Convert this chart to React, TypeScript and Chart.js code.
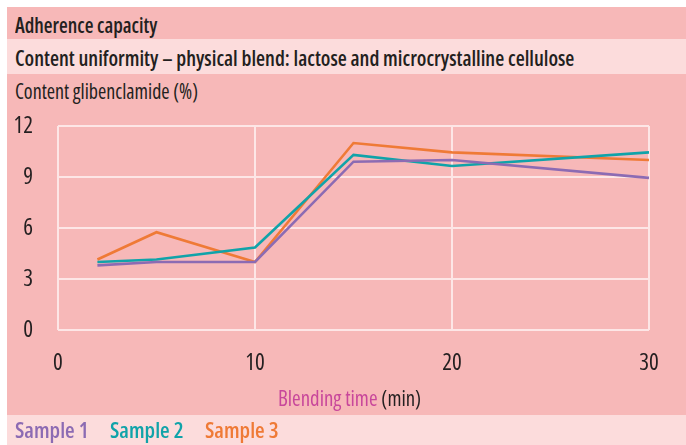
import React, { useEffect, useRef } from "react";
import { Chart, registerables } from "chart.js";

Chart.register(...registerables);

const blendingTime = [2, 5, 10, 15, 20, 30];
const sample1 = [3.8, 4.0, 4.0, 9.9, 10.0, 8.95];
const sample2 = [4.0, 4.15, 4.85, 10.3, 9.65, 10.45];
const sample3 = [4.15, 5.75, 4.0, 11.0, 10.45, 10.0];
const seriesNames = ["Sample 1", "Sample 2", "Sample 3"];
const seriesColors = ["#8c6bb3", "#10a3a9", "#ef7a36"];
const yTicks = [0, 3, 6, 9, 12];
const xTicks = [0, 10, 20, 30];

const FONT = '"Open Sans", sans-serif';
const DARK = "#f7b8b8";
const LIGHT = "#fcdcdc";
const GRID = "#fde6e6";
const INK = "#231f20";

const rowText: React.CSSProperties = {
  position: "absolute",
  left: 8,
  fontFamily: FONT,
  fontStretch: "75%",
  fontSize: 22,
  color: INK,
  whiteSpace: "nowrap",
  lineHeight: "26px",
  height: 26,
  transformOrigin: "left center",
};

export default function App() {
  const ref = useRef<HTMLCanvasElement | null>(null);

  useEffect(() => {
    if (!ref.current) return;
    const data = [sample1, sample2, sample3];
    const tickFont = { family: FONT, size: 23, weight: "ultra-condensed" as any };
    const chart = new Chart(ref.current, {
      type: "line",
      data: {
        datasets: data.map((vals, i) => ({
          label: seriesNames[i],
          data: vals.map((v, j) => ({ x: blendingTime[j], y: v })),
          borderColor: seriesColors[i],
          borderWidth: 2.6,
          pointRadius: 0,
          tension: 0,
          fill: false,
        })),
      },
      options: {
        responsive: false,
        animation: false,
        layout: { padding: { top: 52, right: 37, left: 0, bottom: 0 } },
        plugins: { legend: { display: false }, tooltip: { enabled: false } },
        scales: {
          x: {
            type: "linear",
            min: 0,
            max: 30,
            afterFit: (s: any) => {
              s.height = 85;
            },
            afterBuildTicks: (s: any) => {
              s.ticks = xTicks.map((v) => ({ value: v }));
            },
            grid: { color: GRID, lineWidth: 2, drawTicks: false },
            border: { display: false },
            ticks: {
              padding: 20,
              color: INK,
              font: tickFont,
              maxRotation: 0,
            },
          },
          y: {
            min: 0,
            max: 12,
            afterFit: (s: any) => {
              s.width = 51;
            },
            afterBuildTicks: (s: any) => {
              s.ticks = yTicks.map((v) => ({ value: v }));
            },
            grid: { color: GRID, lineWidth: 2, drawTicks: false },
            border: { display: false },
            ticks: {
              padding: 25,
              color: INK,
              font: tickFont,
            },
          },
        },
      },
    });
    return () => chart.destroy();
  }, []);

  return (
    <div style={{ position: "absolute", left: 7, top: 7, width: 679, height: 438 }}>
      <div style={{ position: "absolute", left: 0, top: 0, width: 679, height: 32, background: DARK }}>
        <div style={{ ...rowText, top: 4, fontWeight: 600, transform: "scaleX(0.91)" }}>Adherence capacity</div>
      </div>
      <div style={{ position: "absolute", left: 0, top: 32, width: 679, height: 35, background: LIGHT }}>
        <div style={{ ...rowText, top: 5, fontWeight: 600, transform: "scaleX(0.94)" }}>
          Content uniformity – physical blend: lactose and microcrystalline cellulose
        </div>
      </div>
      <div style={{ position: "absolute", left: 0, top: 67, width: 679, height: 341, background: DARK }}>
        <div style={{ ...rowText, top: 3, transform: "scaleX(0.91)" }}>Content glibenclamide (%)</div>
        <canvas
          ref={ref}
          width={679}
          height={341}
          style={{ position: "absolute", left: 0, top: 0, width: 679, height: 341 }}
        />
        <div style={{ ...rowText, left: 271, top: 310, transform: "scaleX(0.947)" }}>
          <span style={{ color: "#c8479b" }}>Blending time</span> (min)
        </div>
      </div>
      <div style={{ position: "absolute", left: 0, top: 408, width: 679, height: 30, background: LIGHT }}>
        {seriesNames.map((n, i) => (
          <div
            key={n}
            style={{ ...rowText, left: 8 + i * 95, top: 1, fontWeight: 600, color: seriesColors[i] }}
          >
            {n}
          </div>
        ))}
      </div>
    </div>
  );
}
